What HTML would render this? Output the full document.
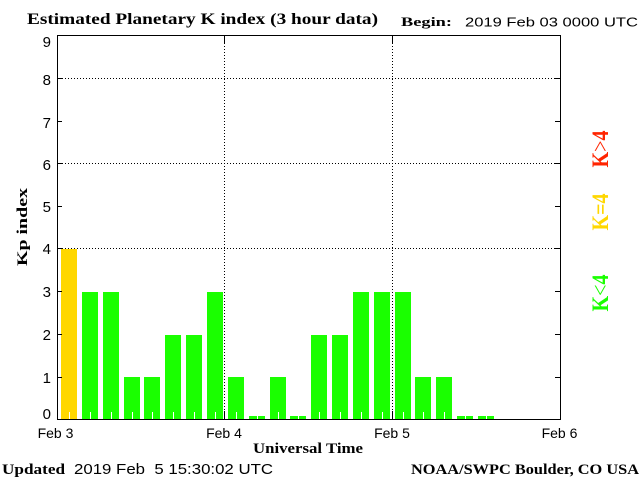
<!DOCTYPE html>
<html><head><meta charset="utf-8"><style>
html,body{margin:0;padding:0;background:#fff;}
svg{display:block;}
.sb{font-family:"Liberation Serif",serif;font-weight:bold;fill:#000;}
.ss{font-family:"Liberation Sans",sans-serif;fill:#000;}
</style></head><body>
<svg width="640" height="480" viewBox="0 0 640 480" xmlns="http://www.w3.org/2000/svg">
<rect width="640" height="480" fill="#fff"/>
<!-- title -->
<text class="sb" x="27" y="24" font-size="16" textLength="351" lengthAdjust="spacingAndGlyphs">Estimated Planetary K index (3 hour data)</text>
<text class="sb" x="401" y="26" font-size="13" textLength="51" lengthAdjust="spacingAndGlyphs">Begin:</text>
<text class="ss" x="465" y="26.5" font-size="12.5" textLength="173" lengthAdjust="spacingAndGlyphs">2019 Feb 03 0000 UTC</text>

<!-- grid -->
<g stroke="#000" stroke-width="1" fill="none">
<line x1="62" y1="78.5" x2="555" y2="78.5" stroke-dasharray="1,2"/>
<line x1="62" y1="163.5" x2="555" y2="163.5" stroke-dasharray="1,2"/>
<line x1="62" y1="248.5" x2="555" y2="248.5" stroke-dasharray="1,2"/>
<line x1="224.5" y1="43" x2="224.5" y2="411" stroke-dasharray="1,2"/>
<line x1="392.5" y1="43" x2="392.5" y2="411" stroke-dasharray="1,2"/>
</g>

<!-- bars -->
<g fill="#1aff00">
<rect x="61" y="249" width="16" height="170" fill="#ffd700"/>
<rect x="82" y="292" width="16" height="127"/>
<rect x="103" y="292" width="16" height="127"/>
<rect x="124" y="377" width="16" height="42"/>
<rect x="144" y="377" width="16" height="42"/>
<rect x="165" y="335" width="16" height="84"/>
<rect x="186" y="335" width="16" height="84"/>
<rect x="207" y="292" width="16" height="127"/>
<rect x="228" y="377" width="16" height="42"/>
<rect x="249" y="416" width="16" height="3"/>
<rect x="270" y="377" width="16" height="42"/>
<rect x="290" y="416" width="16" height="3"/>
<rect x="311" y="335" width="16" height="84"/>
<rect x="332" y="335" width="16" height="84"/>
<rect x="353" y="292" width="16" height="127"/>
<rect x="374" y="292" width="16" height="127"/>
<rect x="395" y="292" width="16" height="127"/>
<rect x="415" y="377" width="16" height="42"/>
<rect x="436" y="377" width="16" height="42"/>
<rect x="457" y="416" width="16" height="3"/>
<rect x="478" y="416" width="16" height="3"/>
</g>
<!-- white minor ticks -->
<g fill="#fff">
<rect x="69" y="412" width="1" height="7"/>
<rect x="90" y="412" width="1" height="7"/>
<rect x="111" y="412" width="1" height="7"/>
<rect x="132" y="412" width="1" height="7"/>
<rect x="152" y="412" width="1" height="7"/>
<rect x="173" y="412" width="1" height="7"/>
<rect x="194" y="412" width="1" height="7"/>
<rect x="215" y="412" width="1" height="7"/>
<rect x="236" y="412" width="1" height="7"/>
<rect x="257" y="412" width="1" height="7"/>
<rect x="278" y="412" width="1" height="7"/>
<rect x="298" y="412" width="1" height="7"/>
<rect x="319" y="412" width="1" height="7"/>
<rect x="340" y="412" width="1" height="7"/>
<rect x="361" y="412" width="1" height="7"/>
<rect x="382" y="412" width="1" height="7"/>
<rect x="403" y="412" width="1" height="7"/>
<rect x="423" y="412" width="1" height="7"/>
<rect x="444" y="412" width="1" height="7"/>
<rect x="465" y="412" width="1" height="7"/>
<rect x="486" y="412" width="1" height="7"/>
</g>

<!-- frame & ticks -->
<g stroke="#000" stroke-width="1" fill="none">
<rect x="57.5" y="35.5" width="503" height="384"/>
<line x1="224.5" y1="35" x2="224.5" y2="43"/>
<line x1="392.5" y1="35" x2="392.5" y2="43"/>
<line x1="224.5" y1="411" x2="224.5" y2="419"/>
<line x1="392.5" y1="411" x2="392.5" y2="419"/>
<path d="M57 78.5h5M57 121.5h5M57 163.5h5M57 206.5h5M57 248.5h5M57 291.5h5M57 334.5h5M57 377.5h5"/>
<path d="M555 78.5h5M555 121.5h5M555 163.5h5M555 206.5h5M555 248.5h5M555 291.5h5M555 334.5h5M555 377.5h5"/>
</g>

<!-- y labels -->
<g class="ss" font-size="15" text-anchor="end">
<text x="51" y="47">9</text>
<text x="51" y="85">8</text>
<text x="51" y="128">7</text>
<text x="51" y="170">6</text>
<text x="51" y="212">5</text>
<text x="51" y="254">4</text>
<text x="51" y="297">3</text>
<text x="51" y="340">2</text>
<text x="51" y="383">1</text>
<text x="51" y="419">0</text>
</g>

<!-- x labels -->
<g class="ss" font-size="14" text-anchor="middle">
<text x="55.5" y="438">Feb 3</text>
<text x="224" y="438">Feb 4</text>
<text x="392" y="438">Feb 5</text>
<text x="559.5" y="438">Feb 6</text>
</g>
<text class="sb" x="253" y="453" font-size="15" textLength="110" lengthAdjust="spacingAndGlyphs">Universal Time</text>

<!-- y axis title -->
<text class="sb" font-size="15" text-anchor="middle" transform="translate(27,227) rotate(-90)" textLength="78" lengthAdjust="spacingAndGlyphs">Kp index</text>

<!-- right labels -->
<text class="sb" font-size="23" text-anchor="middle" fill="#ff2400" style="fill:#ff2400" transform="translate(608,149) rotate(-90)" textLength="37" lengthAdjust="spacingAndGlyphs">K<tspan font-weight="normal">&gt;</tspan>4</text>
<text class="sb" font-size="23" text-anchor="middle" style="fill:#ffd700" transform="translate(608,212) rotate(-90)" textLength="37" lengthAdjust="spacingAndGlyphs">K=4</text>
<text class="sb" font-size="23" text-anchor="middle" style="fill:#1aff00" transform="translate(608,293) rotate(-90)" textLength="37" lengthAdjust="spacingAndGlyphs">K<tspan font-weight="normal">&lt;</tspan>4</text>

<!-- footer -->
<text class="sb" x="2" y="474" font-size="15" textLength="63" lengthAdjust="spacingAndGlyphs">Updated</text>
<text class="ss" x="74" y="474" font-size="14.5" textLength="199" lengthAdjust="spacingAndGlyphs" xml:space="preserve">2019 Feb  5 15:30:02 UTC</text>
<text class="sb" x="411" y="474" font-size="15" textLength="228" lengthAdjust="spacingAndGlyphs">NOAA/SWPC Boulder, CO USA</text>
</svg>
</body></html>
